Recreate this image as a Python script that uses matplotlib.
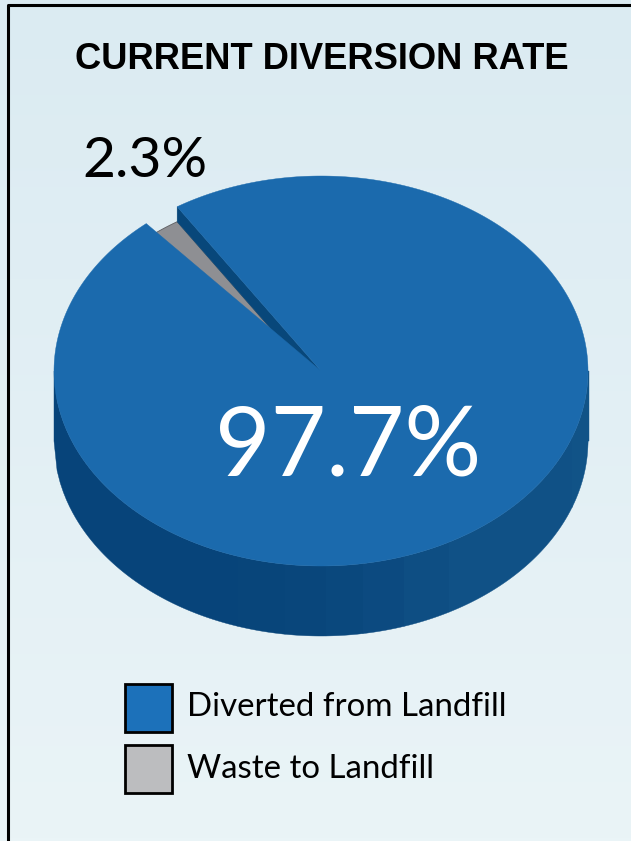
import numpy as np
import matplotlib
matplotlib.use("Agg")
import matplotlib.pyplot as plt
from matplotlib.patches import Polygon, Rectangle

labels = ["Diverted from Landfill", "Waste to Landfill"]
values = [97.7, 2.3]
value_text = ["97.7%", "2.3%"]
title = "CURRENT DIVERSION RATE"

top_colors = ["#1b6aad", "#8e8f93"]
legend_colors = ["#1c71ba", "#bcbdbf"]
wall_color = "#08477a"
# shaded bands on the rim of the disc, left to right
band_edges = [54, 238, 285, 326, 363, 404, 449, 572, 589]
band_colors = ["#07447a", "#08457a", "#09467b", "#0a487d", "#0c4a80", "#0e4e83", "#105186", "#115387"]

cx, cy, rx, ry = 321, 371, 267, 195
depth = 70
drop = 15
start = 122.6  # angle where the blue slice starts


def rim(a, dy=0):
    a = np.radians(a)
    return cx + rx * np.cos(a), cy - ry * np.sin(a) + dy


def slice_pts(a0, a1, dy=0):
    a = np.linspace(a0, a1, 400)
    x, y = rim(a, dy)
    return np.vstack([[cx, cy + dy], np.column_stack([x, y])])


fig = plt.figure(figsize=(6.31, 8.41), dpi=100)
ax = fig.add_axes([0, 0, 1, 1])
ax.set_xlim(0, 631)
ax.set_ylim(841, 0)
ax.axis("off")

# background
grad = np.linspace(0, 1, 256).reshape(-1, 1)
c0 = np.array(matplotlib.colors.to_rgb("#dbebf2"))
c1 = np.array(matplotlib.colors.to_rgb("#eaf4f7"))
ax.imshow(c0 + (c1 - c0) * grad[..., None], extent=[0, 631, 841, 0], aspect="auto", zorder=0)
ax.set_xlim(0, 631)
ax.set_ylim(841, 0)
ax.plot([8, 8, 631], [841, 4.5, 4.5], color="black", lw=2.2, zorder=1)

# rim of the disc
blue_angle = values[0] / sum(values) * 360
for i, col in enumerate(band_colors):
    xs = np.linspace(band_edges[i], band_edges[i + 1], 60)
    t = np.clip((xs - cx) / rx, -1, 1)
    ys = cy + ry * np.sqrt(1 - t**2)
    pts = np.vstack([np.column_stack([xs, ys]), np.column_stack([xs, ys + depth])[::-1]])
    ax.add_patch(Polygon(pts, closed=True, fc=col, ec=col, lw=0.3, zorder=2))

# grey slice sits lower than the blue one
ax.add_patch(Polygon(slice_pts(start, start + values[1] / sum(values) * 360, drop),
                     closed=True, fc=top_colors[1], ec="#5c5d60", lw=0.6, zorder=3))

# cut wall of the blue slice
x_s, y_s = rim(start)
ax.add_patch(Polygon([[cx, cy], [x_s, y_s], [x_s, y_s + drop], [cx, cy + drop]], closed=True,
                     fc=wall_color, ec=wall_color, lw=0.3, zorder=4))

# blue top
ax.add_patch(Polygon(slice_pts(start, start - blue_angle), closed=True,
                     fc=top_colors[0], ec=top_colors[0], lw=0.3, zorder=5))

ax.text(321.5, 59, title, family="Liberation Sans", fontweight="bold", fontsize=26.2,
        ha="center", va="center", color="black", zorder=6)
ax.text(348, 448, value_text[0], family="Lato", fontsize=69, ha="center", va="center",
        color="white", zorder=6)
ax.text(145, 161, value_text[1], family="Lato", fontsize=41, ha="center", va="center",
        color="black", zorder=6)

# legend
for y, col, lab in zip([684, 745], legend_colors, labels):
    ax.add_patch(Rectangle((125, y), 47, 47.5, fc=col, ec="black", lw=2, zorder=6))
    ax.text(187, y + 23.5, lab, family="Lato", fontsize=23.8, ha="left", va="center",
            color="black", zorder=6)

fig.savefig("out.png", dpi=100)
